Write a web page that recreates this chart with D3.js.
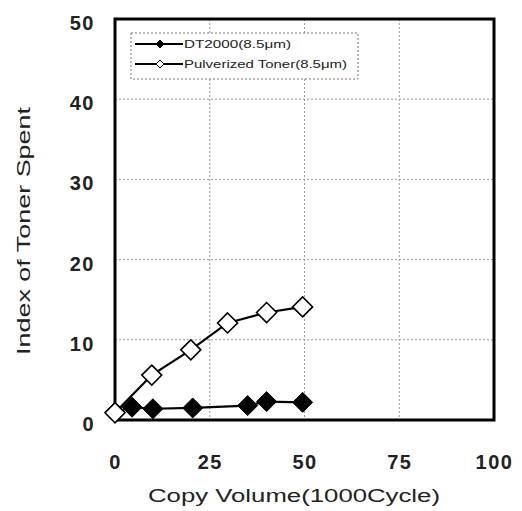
<!DOCTYPE html>
<html><head><meta charset="utf-8">
<script src="https://cdn.jsdelivr.net/npm/d3@7"></script>
<style>body{margin:0;background:#fff}svg{display:block}</style>
</head><body>
<script>
const xTicks = [0, 25, 50, 75, 100];
const yTicks = [0, 10, 20, 30, 40, 50];
const dtX = [0, 4.5, 10, 20.5, 35, 40, 49.5];
const dtY = [1, 1.6, 1.4, 1.5, 1.8, 2.3, 2.2];
const pulX = [0, 9.7, 20, 29.7, 40, 49.5];
const pulY = [0.9, 5.6, 8.75, 12.1, 13.4, 14.1];
const seriesNames = ["DT2000(8.5μm)", "Pulverized Toner(8.5μm)"];
const xTitle = "Copy Volume(1000Cycle)";
const yTitle = "Index of Toner Spent";

const FONT = "Liberation Sans, Arial, sans-serif";
const W = 522, H = 511;
const svg = d3.select("body").append("svg").attr("width", W).attr("height", H);
const x = d3.scaleLinear().domain([0, 100]).range([115, 494]);
const y = d3.scaleLinear().domain([0, 50]).range([420, 19]);

// grid
const g = svg.append("g");
g.selectAll(".vg").data(xTicks.slice(1, -1)).enter().append("line")
  .attr("x1", d => x(d)).attr("x2", d => x(d)).attr("y1", y(50)).attr("y2", y(0))
  .attr("stroke", "#999").attr("stroke-width", 1).attr("stroke-dasharray", "2,2");
g.selectAll(".hg").data(yTicks.slice(1, -1)).enter().append("line")
  .attr("y1", d => y(d)).attr("y2", d => y(d)).attr("x1", x(0)).attr("x2", x(100))
  .attr("stroke", "#999").attr("stroke-width", 1).attr("stroke-dasharray", "2,2");

// frame
svg.append("rect").attr("x", x(0)).attr("y", y(50)).attr("width", x(100) - x(0)).attr("height", y(0) - y(50))
  .attr("fill", "none").attr("stroke", "#000").attr("stroke-width", 3);

// axes labels
const xAxis = d3.axisBottom(x).tickValues(xTicks).tickSize(0).tickPadding(0);
const xa = svg.append("g").attr("transform", "translate(0,462)").call(xAxis);
xa.select(".domain").remove();
xa.selectAll("text").attr("font-family", FONT).attr("font-size", 20).attr("font-weight", "bold")
  .attr("fill", "#222").attr("dy", "0.36em").attr("letter-spacing", 1.5);
const yAxis = d3.axisLeft(y).tickValues(yTicks).tickSize(0).tickPadding(0);
const ya = svg.append("g").attr("transform", "translate(95,4)").call(yAxis);
ya.select(".domain").remove();
ya.selectAll("text").attr("font-family", FONT).attr("font-size", 20).attr("font-weight", "bold")
  .attr("fill", "#222").attr("letter-spacing", 1.5);

svg.append("text").attr("x", 294).attr("y", 502).attr("text-anchor", "middle")
  .attr("textLength", 292).attr("lengthAdjust", "spacingAndGlyphs")
  .attr("font-family", FONT).attr("font-size", 18).attr("fill", "#222").text(xTitle);
svg.append("text").attr("transform", "translate(30,231) rotate(-90)").attr("text-anchor", "middle")
  .attr("textLength", 248).attr("lengthAdjust", "spacingAndGlyphs")
  .attr("font-family", FONT).attr("font-size", 18).attr("fill", "#222").text(yTitle);

// series
const line = d3.line().x(d => x(d[0])).y(d => y(d[1]));
const dt = dtX.map((v, i) => [v, dtY[i]]);
const pul = pulX.map((v, i) => [v, pulY[i]]);
const diamond = r => `M0,${-r}L${r},0L0,${r}L${-r},0Z`;

svg.append("path").datum(dt).attr("d", line).attr("fill", "none").attr("stroke", "#000").attr("stroke-width", 2.2);
svg.selectAll(".dtm").data(dt).enter().append("path")
  .attr("transform", d => `translate(${x(d[0])},${y(d[1])})`).attr("d", diamond(10))
  .attr("fill", "#000").attr("stroke", "#000").attr("stroke-width", 1);

svg.append("path").datum(pul).attr("d", line).attr("fill", "none").attr("stroke", "#000").attr("stroke-width", 2.2);
svg.selectAll(".pm").data(pul).enter().append("path")
  .attr("transform", d => `translate(${x(d[0])},${y(d[1])})`).attr("d", diamond(10))
  .attr("fill", "#fff").attr("stroke", "#000").attr("stroke-width", 1.6);

// legend
const lg = svg.append("g");
lg.append("rect").attr("x", 131).attr("y", 33).attr("width", 227).attr("height", 46)
  .attr("fill", "#fff").attr("stroke", "#777").attr("stroke-width", 1).attr("stroke-dasharray", "2,2");
const legW = [107, 163];
[0, 1].forEach(i => {
  const yy = 44 + i * 20;
  lg.append("line").attr("x1", 135).attr("x2", 183).attr("y1", yy).attr("y2", yy).attr("stroke", "#000").attr("stroke-width", 2);
  lg.append("path").attr("transform", `translate(160,${yy})`).attr("d", diamond(4))
    .attr("fill", i === 0 ? "#000" : "#fff").attr("stroke", "#000").attr("stroke-width", 1);
  lg.append("text").attr("x", 184).attr("y", yy + 4).attr("font-family", FONT)
    .attr("textLength", legW[i]).attr("lengthAdjust", "spacingAndGlyphs")
    .attr("font-size", 11).attr("fill", "#222").text(seriesNames[i]);
});
</script>
</body></html>
